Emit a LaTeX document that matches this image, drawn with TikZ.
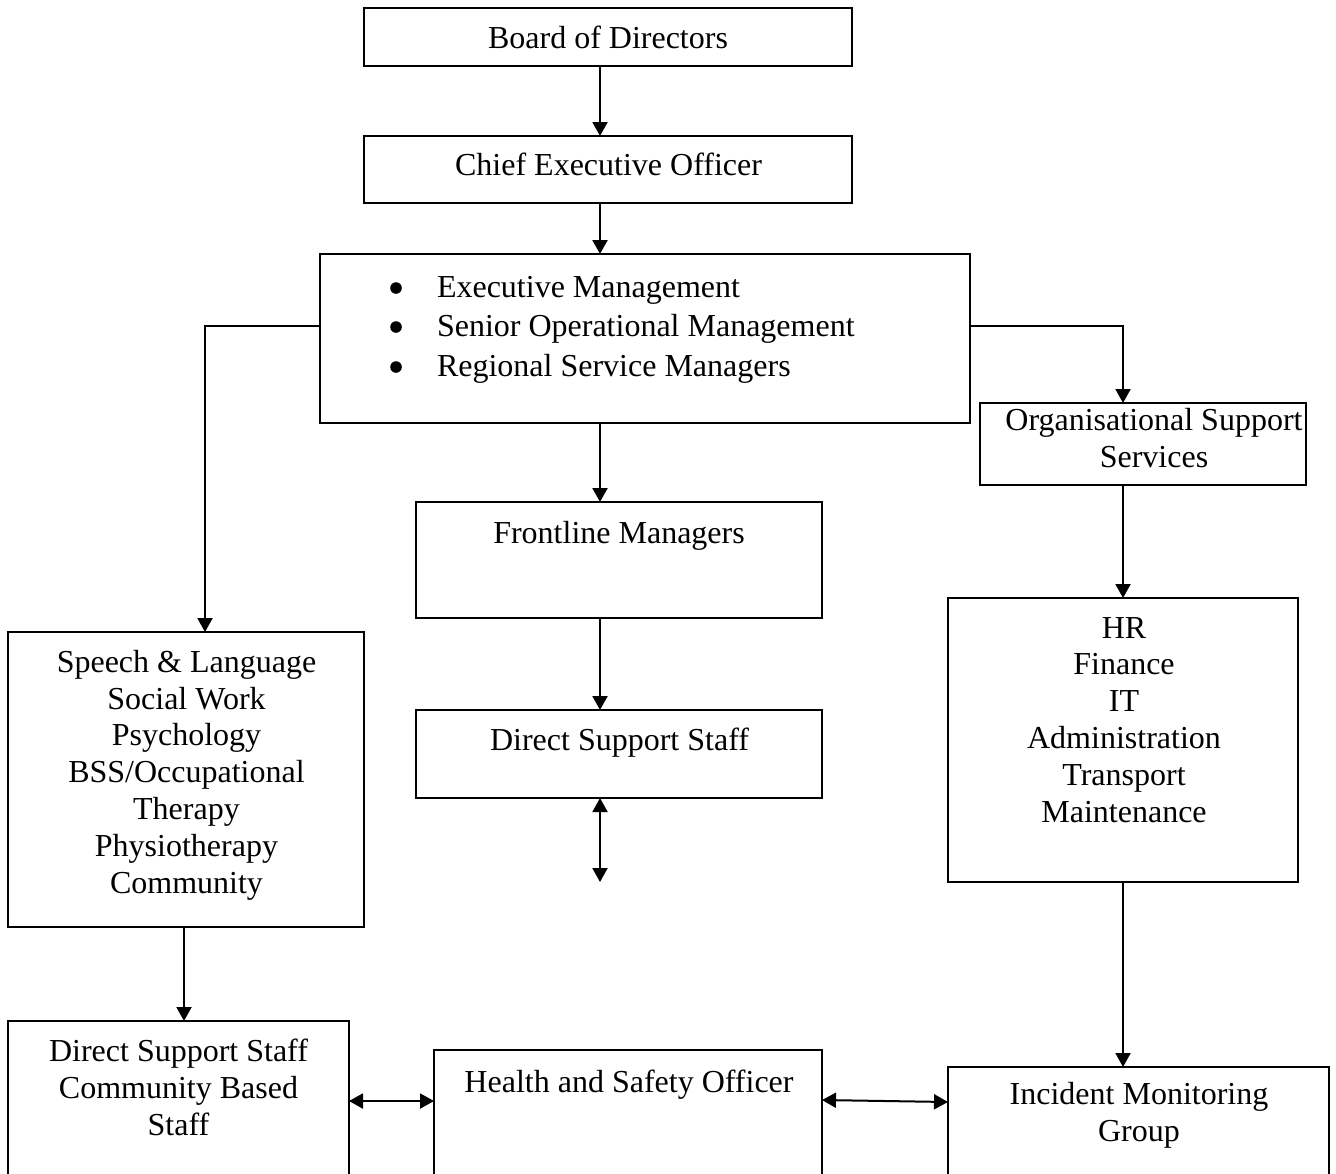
\documentclass[tikz,border=0pt]{standalone}
\usepackage{fontspec}
\setmainfont{Liberation Serif}
\usetikzlibrary{arrows.meta}
\tikzset{
  box/.style={draw, line width=1pt, inner sep=0pt, outer sep=0pt, fill=none},
  txt/.style={inner sep=0pt, outer sep=0pt, align=center, anchor=base, font=\fontsize{16}{18.4}\selectfont},
  ltxt/.style={inner sep=0pt, outer sep=0pt, anchor=base west, font=\fontsize{16}{18.4}\selectfont},
  bul/.style={circle, fill, inner sep=0pt, outer sep=0pt, minimum size=5.8pt},
  arr/.style={line width=1pt, -{Triangle[width=7.5pt,length=7pt]}},
  darr/.style={line width=1pt, {Triangle[width=7.5pt,length=7pt]}-{Triangle[width=7.5pt,length=7pt]}}
}
\begin{document}
\begin{tikzpicture}[x=0.5pt,y=-0.5pt]
\useasboundingbox (0,0) rectangle (1336,1173);
\clip (0,0) rectangle (1336,1173);
% boxes
\node[box, minimum width=244pt, minimum height=29pt] (board) at (608,37) {};
\node[box, minimum width=244pt, minimum height=33.5pt] (ceo) at (608,169.5) {};
\node[box, minimum width=325pt, minimum height=84.5pt] (exec) at (645,338.5) {};
\node[box, minimum width=163pt, minimum height=41pt] (org) at (1143,444) {};
\node[box, minimum width=203pt, minimum height=58pt] (front) at (619,560) {};
\node[box, minimum width=203pt, minimum height=44pt] (dss) at (619,754) {};
\node[box, minimum width=175pt, minimum height=142pt] (hr) at (1123,740) {};
\node[box, minimum width=178pt, minimum height=147.5pt] (speech) at (186,779.5) {};
\node[box, minimum width=170.5pt, minimum height=89.5pt] (dss2) at (178.5,1110.5) {};
\node[box, minimum width=194pt, minimum height=75pt] (hso) at (628,1125) {};
\node[box, minimum width=190.5pt, minimum height=66.5pt] (inc) at (1138.5,1133.5) {};
% texts (multi-line: anchor base = last line's baseline)
\node[txt] (tboard) at (608,48) {Board of Directors};
\node[txt] (tceo) at (608.5,175) {Chief Executive Officer};
\node[bul] (b1) at (396,288) {};
\node[bul] (b2) at (396,327) {};
\node[bul] (b3) at (396,367) {};
\node[ltxt] (e1) at (437,297) {Executive Management};
\node[ltxt] (e2) at (437,336) {Senior Operational Management};
\node[ltxt] (e3) at (437,376) {Regional Service Managers};
\node[txt] (torg) at (1154,467) {Organisational Support\\Services};
\node[txt] (tfront) at (619,543) {Frontline Managers};
\node[txt] (tdss) at (619.5,750) {Direct Support Staff};
\node[txt] (thr) at (1124,822) {HR\\Finance\\IT\\Administration\\Transport\\Maintenance};
\node[txt] (tspeech) at (186.5,893) {Speech \& Language\\Social Work\\Psychology\\BSS/Occupational\\Therapy\\Physiotherapy\\Community};
\node[txt] (tdss2) at (178.5,1135) {Direct Support Staff\\Community Based\\Staff};
\node[txt] (thso) at (629,1092) {Health and Safety Officer};
\node[txt] (tinc) at (1139,1141) {Incident Monitoring\\Group};
% connector helpers
\coordinate (mx) at (600,0);
\coordinate (dssend) at (600,882);
\coordinate (ly) at (0,326);
\coordinate (lx) at (205,0);
\coordinate (rx) at (1123,0);
\coordinate (sx) at (184,0);
\coordinate (by) at (0,1101);
\coordinate (hy1) at (0,1100);
\coordinate (hy2) at (0,1102);
% connectors
\draw[arr] (board.south -| mx) -- (ceo.north -| mx);
\draw[arr] (ceo.south -| mx) -- (exec.north -| mx);
\draw[arr] (exec.south -| mx) -- (front.north -| mx);
\draw[arr] (front.south -| mx) -- (dss.north -| mx);
\draw[darr] (dss.south -| mx) -- (dssend);
\draw[arr] (exec.west |- ly) -| (speech.north -| lx);
\draw[arr] (exec.east |- ly) -| (org.north -| rx);
\draw[arr] (org.south -| rx) -- (hr.north -| rx);
\draw[arr] (hr.south -| rx) -- (inc.north -| rx);
\draw[arr] (speech.south -| sx) -- (dss2.north -| sx);
\draw[darr] (dss2.east |- by) -- (hso.west |- by);
\draw[darr] (hso.east |- hy1) -- (inc.west |- hy2);
\end{tikzpicture}
\end{document}
